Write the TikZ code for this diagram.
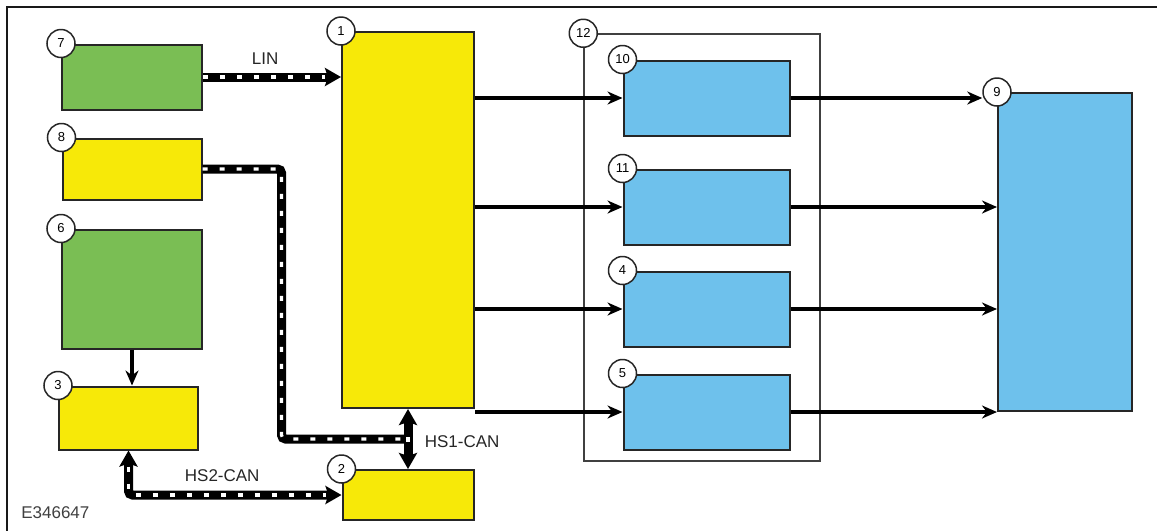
\documentclass[tikz,border=0pt]{standalone}
\usepackage{fontspec}
\setmainfont{Liberation Sans}
\usetikzlibrary{arrows.meta,positioning,calc}

\definecolor{modgreen}{RGB}{122,190,84}
\definecolor{modyellow}{RGB}{247,233,8}
\definecolor{modblue}{RGB}{110,193,236}

\begin{document}
\begin{tikzpicture}[x=1pt, y=-1pt, line width=2pt,
  >={Stealth[length=15pt, width=13pt]},
  module/.style={rectangle, draw=black!85, inner sep=0pt},
  bluebox/.style={module, fill=modblue, minimum width=166pt, minimum height=75pt},
  tag/.style={circle, draw=black!85, fill=white, line width=1.5pt, inner sep=0pt,
    minimum size=28pt, font=\fontsize{13}{14}\selectfont},
  feed/.style={->, line width=4pt},
  bus/.style 2 args={line width=9pt, rounded corners=4pt,
    >={Stealth[length=16pt, width=18pt, inset=3pt]},
    postaction={draw=white, line width=3.2pt, dash pattern=on 5pt off 12pt,
      -, shorten <=#1, shorten >=#2}},
  buslabel/.style={font=\fontsize{17}{20}\selectfont, text=black!85}]

\useasboundingbox (0,0) rectangle (1157,531);
\draw [black!90] (1157,7) -- (7,7) -- (7,531);

% left column
\node [module, fill=modgreen, minimum width=140pt, minimum height=65pt] (seven) at (132,77) {};
\node [module, fill=modyellow, minimum width=139pt, minimum height=61pt] (eight) [below=27pt of seven] {};
\node [module, fill=modgreen, minimum width=140pt, minimum height=119pt] (six) [below=28pt of eight] {};
\node [module, fill=modyellow, minimum width=139pt, minimum height=63pt] (three) [below=36pt of six, xshift=-3.5pt] {};

% gateway and the module under it
\node [module, fill=modyellow, minimum width=132pt, minimum height=376pt] (one) at (408,220) {};
\node [module, fill=modyellow, minimum width=131pt, minimum height=50pt] (two) [below=60pt of one] {};

% group of four
\node [rectangle, draw=black!75, line width=1.5pt, minimum width=236pt, minimum height=427pt] (twelve) at (702,247.5) {};
\node [bluebox] (ten) at (706.5,98) {};
\node [bluebox] (eleven) [below=32pt of ten] {};
\node [bluebox] (four) [below=25pt of eleven] {};
\node [bluebox] (five) [below=26pt of four] {};

\node [module, fill=modblue, minimum width=134pt, minimum height=318pt] (nine) at (1065,252) {};

\foreach \n/\m in {7/seven, 8/eight, 6/six, 3/three, 1/one, 2/two,
    12/twelve, 10/ten, 11/eleven, 4/four, 5/five, 9/nine}
  \node [tag] (tag\n) at (\m.north west) {\n};

% network lines
\coordinate (hsone) at ($(one.south)!0.5!(two.north)$);
\draw [bus={0pt}{16pt}, ->] (seven.east) -- (one.west |- seven.east)
  node [buslabel, above=5pt, pos=0.45] {LIN};
\draw [bus={0pt}{7pt}] (eight.east) -- ++(79,0) |- (hsone);
\draw [bus={28pt}{20pt}, <->] (one.south) -- (two.north)
  node [buslabel, right=9pt, pos=0.55] {HS1-CAN};
\draw [bus={16pt}{16pt}, <->] (three.south) |- (two.west)
  node [buslabel, above=6pt, pos=0.72] {HS2-CAN};

% hard wired feeds
\draw [feed] (six.south) -- (six.south |- three.north);
\foreach \m in {ten, eleven, four, five}
  \draw [feed] (one.east |- \m.west) -- (\m.west);
\draw [feed] (ten.east) -- (ten.east -| tag9.west);
\foreach \m in {eleven, four, five}
  \draw [feed] (\m.east) -- (\m.east -| nine.west);

\node [anchor=west, font=\fontsize{17}{20}\selectfont, text=black!75] (code) at (17,513) {E346647};

\end{tikzpicture}
\end{document}
